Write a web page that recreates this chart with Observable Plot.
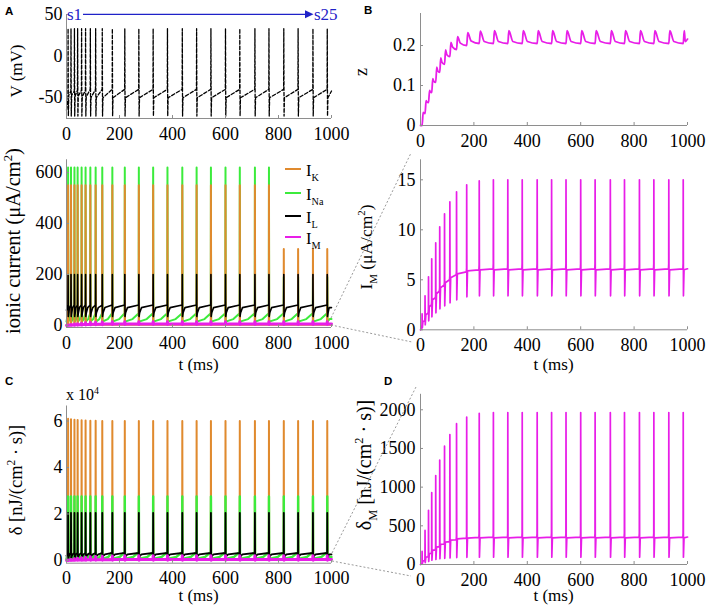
<!DOCTYPE html>
<html><head><meta charset="utf-8">
<script src="https://cdn.jsdelivr.net/npm/d3@7"></script>
<script src="https://cdn.jsdelivr.net/npm/@observablehq/plot@0.6"></script>
<style>
body{margin:0;background:#fff;}
#root{position:relative;width:708px;height:610px;overflow:hidden;font-family:"Liberation Serif",serif;}
.panel{position:absolute;}
#overlay{position:absolute;left:0;top:0;pointer-events:none;}
</style></head><body><div id="root"></div>
<script>
// ---------- data ----------
const spikeT = [6, 17, 30, 42, 57, 72, 90, 110, 135, 173, 220, 273, 327, 381, 437, 491, 545, 600, 654, 711, 764, 820, 874, 930, 984];
const xTicks = [0, 200, 400, 600, 800, 1000];

// A (top): membrane potential V (mV)
const vStart = -65, vEnd = -42;
const vPeak   = [33,33,33,33,33,33,33,33,33,33,33,33,33,33,33,33,33,33,33,33,33,33,33,33,33];
const vTrough = [-72,-72,-72,-72,-72,-72,-72,-72,-72,-72,-72,-72,-72,-72,-72,-72,-72,-72,-72,-72,-72,-72,-72,-72,-72];
const vAfter  = [-47,-47,-48,-48,-49,-49,-50,-50,-50,-50,-50,-50,-50,-50,-50,-50,-50,-50,-50,-50,-50,-50,-50,-50,-50];
const vBefore = [-52,-42,-42,-41,-41,-41,-40,-40,-40,-40,-40,-40,-40,-40,-40,-40,-40,-40,-40,-40,-40,-40,-40,-40,-40];
const vTicks = [-50, 0, 50];

// B (top): gating variable z
const zStart = 0, zEnd = 0.216;
const zBefore = [0.000,0.030,0.057,0.082,0.108,0.133,0.153,0.172,0.190,0.200,0.205,0.205,0.205,0.205,0.205,0.205,0.205,0.205,0.205,0.205,0.205,0.205,0.205,0.205,0.205];
const zPeak   = [0.033,0.062,0.088,0.117,0.146,0.169,0.189,0.208,0.222,0.232,0.236,0.237,0.237,0.237,0.237,0.237,0.237,0.237,0.237,0.237,0.237,0.237,0.237,0.237,0.237];
const zMid    = [0.031,0.059,0.084,0.111,0.137,0.158,0.177,0.196,0.206,0.211,0.210,0.210,0.210,0.210,0.210,0.210,0.210,0.210,0.210,0.210,0.210,0.210,0.210,0.210,0.210];
const zTicks = [0, 0.1, 0.2];

// B (bottom): M current I_M (uA/cm2)
const imStart = 0, imEnd = 6.1;
const imBefore = [0.3,0.9,1.7,2.5,3.2,3.9,4.5,5.0,5.5,5.8,6.0,6.1,6.1,6.1,6.1,6.1,6.1,6.1,6.1,6.1,6.1,6.1,6.1,6.1,6.1];
const imBump   = [0.5,1.2,2.0,2.8,3.5,4.2,4.8,5.4,5.9,6.2,6.5,6.6,6.6,6.6,6.6,6.6,6.6,6.6,6.6,6.6,6.6,6.6,6.6,6.6,6.6];
const imPeak   = [1.6,3.4,5.3,7.1,8.7,10.3,11.6,12.8,13.8,14.5,14.9,15.0,15.0,15.0,15.0,15.0,15.0,15.0,15.0,15.0,15.0,15.0,15.0,15.0,15.0];
const imTrough = [0.2,0.5,0.9,1.3,1.7,2.1,2.4,2.7,3.0,3.3,3.4,3.4,3.4,3.4,3.4,3.4,3.4,3.4,3.4,3.4,3.4,3.4,3.4,3.4,3.4];
const imAfter  = [0.8,1.5,2.3,3.0,3.6,4.2,4.7,5.2,5.6,5.9,6.0,6.0,6.0,6.0,6.0,6.0,6.0,6.0,6.0,6.0,6.0,6.0,6.0,6.0,6.0];
const imTicks = [0, 5, 10, 15];

// A (bottom): ionic currents (uA/cm2)
const ikBase = 3;
const ikPeak = [550,550,550,550,550,550,550,550,550,550,550,550,550,550,550,550,550,550,550,550,550,300,300,300,300];
const naPeak = [620,620,620,620,620,620,620,620,620,620,620,620,620,620,620,620,620,620,620,620,620,190,190,190,190];
const naAfter = 15, naMid = 25, naBefore = 48;
const ilPeak = [200,200,200,200,200,200,200,200,200,200,200,200,200,200,200,200,200,200,200,200,200,200,200,200,200];
const ilTrough = 35, ilAfter = 50, ilKnee = 70, ilBefore = 80;
const ionTicks = [0, 200, 400, 600];

// C: energy consumption delta (nJ/(cm2 s))
const dkBase = 500;
const dkPeak = [61000,60800,60600,60500,60400,60300,60200,60100,60000,60000,60000,60000,60000,60000,60000,60000,60000,60000,60000,60000,60000,60000,60000,60000,60000];
const dnaPeak = [27500,27500,27500,27500,27500,27500,27500,27500,27500,27500,27500,27500,27500,27500,27500,27500,27500,27500,27500,27500,27500,27500,27500,27500,27500];
const dnaAfter = 600, dnaMid = 1500, dnaBefore = 3600;
const dlPeak = [20500,20500,20500,20500,20500,20500,20500,20500,20500,20500,20500,20500,20500,20500,20500,20500,20500,20500,20500,20500,20500,20500,20500,20500,20500];
const dlTrough = 800, dlAfter = 1800, dlKnee = 2600, dlBefore = 3200;
const dTicks = [0, 20000, 40000, 60000];

// D: delta_M
const dmStart = 0, dmEnd = 355;
const dmBefore = [10,50,100,145,190,230,265,295,320,340,350,355,355,355,355,355,355,355,355,355,355,355,355,355,355];
const dmBump   = [20,70,130,180,225,265,300,335,365,385,400,405,405,405,405,405,405,405,405,405,405,405,405,405,405];
const dmPeak   = [170,440,700,930,1150,1350,1530,1680,1820,1905,1955,1965,1965,1965,1965,1965,1965,1965,1965,1965,1965,1965,1965,1965,1965];
const dmTrough = [10,25,40,55,65,75,80,85,90,93,95,95,95,95,95,95,95,95,95,95,95,95,95,95,95];
const dmAfter  = [45,95,140,185,225,260,290,315,330,340,345,345,345,345,345,345,345,345,345,345,345,345,345,345,345];
const dmTicks = [0, 500, 1000, 1500, 2000];

// ---------- build traces from the spike tables ----------
function spikeSeries(start, end, knots) {
  const pts = [{t: 0, v: start}];
  spikeT.forEach((t, i) => {
    const gap = (i + 1 < spikeT.length ? spikeT[i + 1] : 1000) - t;
    for (const [off, vals] of knots) {
      pts.push({t: t + off(gap), v: Array.isArray(vals) ? vals[i] : vals});
    }
  });
  pts.push({t: 1000, v: end});
  return pts;
}
const V = spikeSeries(vStart, vEnd, [[g => -0.6, vBefore], [g => 0, vPeak], [g => 1, vTrough], [g => 2.5, vAfter]]);
const Z = spikeSeries(zStart, zEnd, [[g => 0, zBefore], [g => 4, zPeak], [g => 4 + 0.3 * (g - 4), zMid]]);
const IM = spikeSeries(imStart, imEnd, [[g => -1.2, imBefore], [g => -0.4, imBump], [g => 0, imPeak], [g => 0.8, imTrough], [g => 3, imAfter]]);
const IK = spikeSeries(ikBase, ikBase, [[g => -0.5, ikBase], [g => 0, ikPeak], [g => 0.8, ikBase]]);
const INA = spikeSeries(naAfter, naMid, [[g => -0.5, naBefore], [g => 0, naPeak], [g => 0.8, naAfter], [g => 0.55 * g, naMid]]);
const IL = spikeSeries(60, ilKnee, [[g => -0.5, ilBefore], [g => 0, ilPeak], [g => 0.8, ilTrough], [g => 3, ilAfter], [g => Math.min(10, 0.45 * g), ilKnee]]);
const DK = spikeSeries(dkBase, dkBase, [[g => -0.5, dkBase], [g => 0, dkPeak], [g => 0.8, dkBase]]);
const DNA = spikeSeries(dnaAfter, dnaMid, [[g => -0.5, dnaBefore], [g => 0, dnaPeak], [g => 0.8, dnaAfter], [g => 0.6 * g, dnaMid]]);
const DL = spikeSeries(2000, dlKnee, [[g => -0.5, dlBefore], [g => 0, dlPeak], [g => 0.8, dlTrough], [g => 3, dlAfter], [g => Math.min(10, 0.45 * g), dlKnee]]);
const DM = spikeSeries(dmStart, dmEnd, [[g => -1.2, dmBefore], [g => -0.4, dmBump], [g => 0, dmPeak], [g => 0.8, dmTrough], [g => 3, dmAfter]]);

// ---------- styling ----------
const C_K = "#E08A2E", C_NA = "#3CEB3C", C_L = "#000000", C_M = "#E81EE8";
const AXIS = "#8e8e8e";
const SERIF = "'Liberation Serif', 'Times New Roman', serif";
const TICK_FS = 18;
const root = document.getElementById("root");

function panel(cfg) {
  const {left, top, width, height, mt, mb, ml, mr, yDomain, yTicks, yFmt, yPad, marks} = cfg;
  const innerW = width - ml - mr, innerH = height - mt - mb;
  const svg = Plot.plot({
    width, height, marginTop: mt, marginBottom: mb, marginLeft: ml, marginRight: mr,
    style: {fontFamily: SERIF, fontSize: TICK_FS + "px", color: "#000", background: "transparent", overflow: "visible"},
    x: {domain: [0, 1000], label: null},
    y: {domain: yDomain, label: null},
    marks: [
      ...marks,
      Plot.ruleX([0], {stroke: AXIS, strokeWidth: 1}),
      Plot.ruleY([yDomain[0]], {stroke: AXIS, strokeWidth: 1}),
      Plot.tickX(xTicks, {x: d => d, stroke: AXIS, insetTop: innerH - 3}),
      Plot.tickY(yTicks, {y: d => d, stroke: AXIS, insetRight: innerW - 3}),
      Plot.axisX({ticks: xTicks, tickSize: 0, tickPadding: 8.5, tickFormat: d => String(d), label: null, fontSize: TICK_FS, fontFamily: SERIF}),
      Plot.axisY({ticks: yTicks, tickSize: 0, tickPadding: yPad, tickFormat: yFmt, label: null, fontSize: TICK_FS, fontFamily: SERIF})
    ]
  });
  const div = document.createElement("div");
  div.className = "panel";
  div.style.left = left + "px";
  div.style.top = top + "px";
  div.appendChild(svg);
  root.appendChild(div);
}

const line = (data, stroke, strokeWidth, extra = {}) => Plot.line(data, {x: "t", y: "v", stroke, strokeWidth, strokeLinejoin: "round", ...extra});

// A top
panel({left: 0, top: 0, width: 354, height: 150, mt: 14, mb: 32, ml: 66, mr: 23,
  yDomain: [-75, 50], yTicks: vTicks, yFmt: d => String(d), yPad: 4,
  marks: [line(V, "#000", 1.3, {strokeDasharray: "3.5,2"})]});
// A bottom
panel({left: 0, top: 150, width: 354, height: 225, mt: 9.25, mb: 48, ml: 66, mr: 23,
  yDomain: [-8, 650], yTicks: ionTicks, yFmt: d => String(d), yPad: 4,
  marks: [line(INA, C_NA, 2), line(IK, C_K, 2), line(IL, C_L, 1.6), line(IM, C_M, 3)]});
// C
panel({left: 0, top: 390, width: 354, height: 220, mt: 15.5, mb: 47.3, ml: 66, mr: 23,
  yDomain: [-1200, 66500], yTicks: dTicks, yFmt: d => String(d / 1e4), yPad: 4,
  marks: [line(DK, C_K, 2), line(DNA, C_NA, 2.4), line(DL, C_L, 1.8), line(DM, C_M, 3)]});
// B top
panel({left: 354, top: 0, width: 354, height: 150, mt: 13, mb: 25, ml: 66, mr: 21,
  yDomain: [0, 0.28], yTicks: zTicks, yFmt: d => d === 0 ? "0" : d.toFixed(1), yPad: 5,
  marks: [line(Z, C_M, 1.8, {curve: "monotone-x"})]});
// B bottom
panel({left: 354, top: 150, width: 354, height: 225, mt: 9.3, mb: 45.7, ml: 66, mr: 21,
  yDomain: [0, 17], yTicks: imTicks, yFmt: d => String(d), yPad: 5,
  marks: [line(IM, C_M, 1.7)]});
// D
panel({left: 354, top: 390, width: 354, height: 220, mt: 3.8, mb: 46, ml: 66, mr: 21,
  yDomain: [0, 2200], yTicks: dmTicks, yFmt: d => String(d), yPad: 5,
  marks: [line(DM, C_M, 1.7)]});

// ---------- annotations overlay ----------
const ov = d3.select(root).append("svg").attr("id", "overlay").attr("width", 708).attr("height", 610);

function rich(parent, x, y, parts, {size = 17, anchor = "start", rotate = 0, fill = "#000"} = {}) {
  const g = parent.append("g").attr("transform", `translate(${x},${y}) rotate(${rotate})`);
  const t = g.append("text").attr("text-anchor", anchor).attr("font-family", SERIF)
    .attr("font-size", size).attr("fill", fill).attr("dy", rotate ? "0.35em" : 0);
  let shift = 0;
  for (const [s, kind] of parts) {
    const target = kind === "sub" ? size * 0.28 : kind === "sup" ? -size * 0.38 : 0;
    const ts = t.append("tspan").text(s).attr("dy", target - shift);
    if (kind) ts.attr("font-size", size * 0.62);
    shift = target;
  }
  return t;
}

// panel letters
for (const [s, x, y] of [["A", 5, 15], ["B", 364, 14], ["C", 5, 385], ["D", 384, 385]]) {
  ov.append("text").attr("x", x).attr("y", y).text(s).attr("font-family", "'Liberation Sans', Arial, sans-serif")
    .attr("font-weight", "bold").attr("font-size", 11.5).attr("fill", "#000");
}

// axis titles
rich(ov, 22, 71, [["V (mV)"]], {rotate: -90, anchor: "middle", size: 17});
rich(ov, 20, 241, [["ionic current (μA/cm"], ["2", "sup"], [")"]], {rotate: -90, anchor: "middle", size: 20.5});
rich(ov, 22, 480, [["δ [nJ/(cm"], ["2", "sup"], [" · s)]"]], {rotate: -90, anchor: "middle", size: 18.5});
rich(ov, 367, 72, [["z"]], {rotate: -90, anchor: "middle", size: 18});
rich(ov, 372, 247, [["I"], ["M", "sub"], [" (μA/cm"], ["2", "sup"], [")"]], {rotate: -90, anchor: "middle", size: 17.5});
rich(ov, 371, 465, [["δ"], ["M", "sub"], [" [nJ/(cm"], ["2", "sup"], [" · s)]"]], {rotate: -90, anchor: "middle", size: 20});
for (const [x, y] of [[198.5, 370], [553.5, 370], [198.5, 601], [553.5, 601]]) {
  rich(ov, x, y, [["t (ms)"]], {anchor: "middle", size: 17});
}
// x 10^4
rich(ov, 66, 400, [["x 10"], ["4", "sup"]], {size: 16});

// s1 -> s25 arrow
const BLUE = "#1f22c8";
rich(ov, 67, 20, [["s1"]], {fill: BLUE, size: 17});
ov.append("line").attr("x1", 83).attr("x2", 306).attr("y1", 14.3).attr("y2", 14.3).attr("stroke", BLUE).attr("stroke-width", 1.2);
ov.append("path").attr("d", "M305,10.3 L313.5,14.3 L305,18.3 Z").attr("fill", BLUE);
rich(ov, 314, 20, [["s25"]], {fill: BLUE, size: 17});

// legend of panel A bottom
const legend = [["K", C_K, 169], ["Na", C_NA, 193], ["L", C_L, 216], ["M", C_M, 237]];
for (const [sub, col, y] of legend) {
  ov.append("line").attr("x1", 285).attr("x2", 301).attr("y1", y).attr("y2", y).attr("stroke", col).attr("stroke-width", 2);
  rich(ov, 306, y + 7, [["I"], [sub, "sub"]], {size: 16.5});
}

// zoom connectors
const conn = [[331, 318, 411, 153], [331, 325, 412, 342], [332, 553, 416, 387], [332, 561, 411, 576]];
for (const [x1, y1, x2, y2] of conn) {
  ov.append("line").attr("x1", x1).attr("y1", y1).attr("x2", x2).attr("y2", y2)
    .attr("stroke", "#808080").attr("stroke-width", 0.8).attr("stroke-dasharray", "2,2");
}
</script></body></html>
